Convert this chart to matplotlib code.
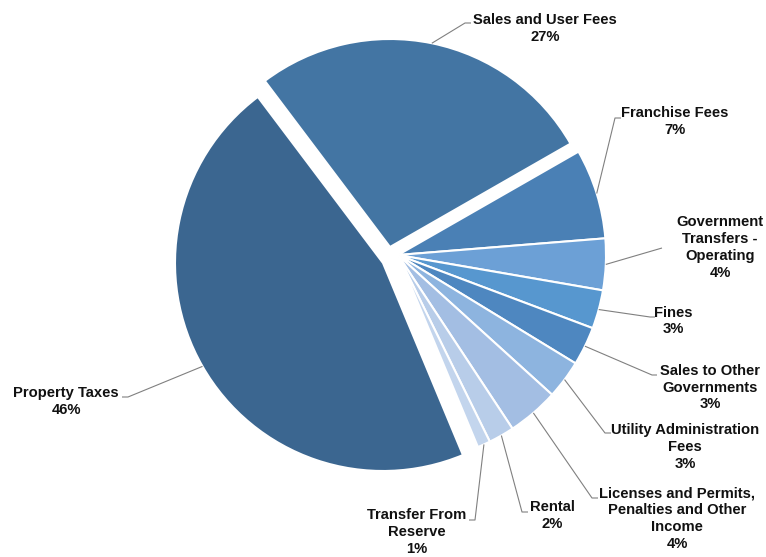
import numpy as np
import matplotlib.pyplot as plt

# Revenue sources, in the order they are drawn clockwise from the top
categories = ['Sales and User Fees', 'Franchise Fees', 'Government\nTransfers -\nOperating',
              'Fines', 'Sales to Other\nGovernments', 'Utility Administration\nFees',
              'Licenses and Permits,\nPenalties and Other\nIncome', 'Rental',
              'Transfer From\nReserve', 'Property Taxes']
shares = [27, 7, 4, 3, 3, 3, 4, 2, 1, 46]
colors = ['#4375a3', '#4a80b5', '#6ca0d6', '#5797cf', '#4e87c0',
          '#8db4df', '#a3bee3', '#b8cde9', '#c3d5ed', '#3b6690']
# pulled-out slices: pixel offset (right, up) of the slice apex
offsets = {0: (-8, 8), 9: (-15, -8)}

# label block centre (x, y), leader elbow and tick end, in pixel space (y down)
label_xy = [(545, 28.5), (675, 121.5), (720, 247.5), (673, 321), (710, 387.5),
            (685, 447), (677, 518.5), (552, 515.5), (417, 532), (66, 401.5)]
elbows = [((465, 23), (471, 23)), ((615, 118), (621, 118)), ((662, 248), (662, 248)),
          ((650, 317), (655, 317)), ((652, 375), (657, 375)), ((605, 433), (611, 433)),
          ((592, 498), (598, 498)), ((522, 512), (528, 512)), ((475, 520), (469, 520)),
          ((128, 397), (122, 397))]

W, H = 766, 557
R = 208
cx, cy = 398, H - 255
fig = plt.figure(figsize=(W / 100, H / 100), dpi=100)
ax = fig.add_axes([0, 0, 1, 1])

wedges, _ = ax.pie(shares, colors=colors, startangle=127, counterclock=False,
                   center=(cx, cy), radius=R,
                   wedgeprops=dict(edgecolor='white', linewidth=1.5))
for i, (dx, dy) in offsets.items():
    wedges[i].set_center((cx + dx, cy + dy))

ax.set_xlim(0, W)
ax.set_ylim(0, H)
ax.set_aspect('equal')
ax.axis('off')

for w, name, pct, (tx, ty), (elb, tick) in zip(wedges, categories, shares, label_xy, elbows):
    mid = np.deg2rad((w.theta1 + w.theta2) / 2)
    sx = w.center[0] + w.r * np.cos(mid)
    sy = w.center[1] + w.r * np.sin(mid)
    ax.plot([sx, elb[0], tick[0]], [sy, H - elb[1], H - tick[1]],
            color='#808080', linewidth=0.8, solid_capstyle='butt')
    ax.text(tx, H - ty, f'{name}\n{pct}%', ha='center', va='center',
            fontsize=10.6, fontweight='bold', family='Liberation Sans',
            color='#111111', linespacing=1.27)

fig.savefig('out.png', dpi=100)
